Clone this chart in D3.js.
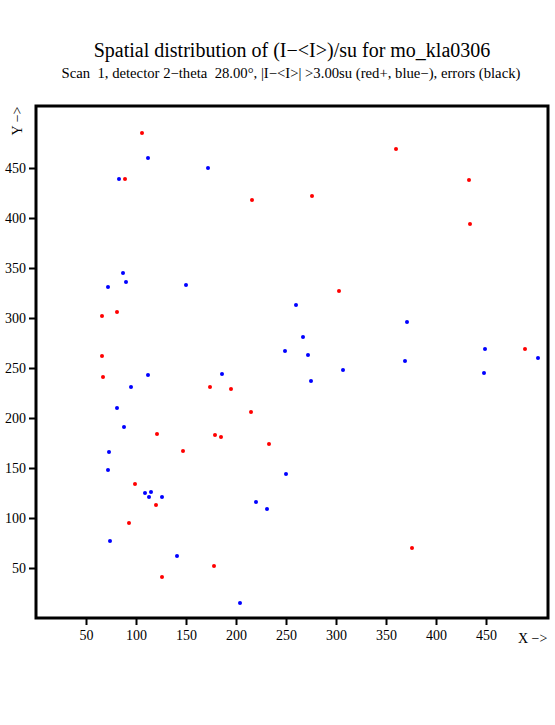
<!DOCTYPE html>
<html>
<head>
<meta charset="utf-8">
<script src="https://cdn.jsdelivr.net/npm/d3@7"></script>
<style>
  html, body { margin: 0; padding: 0; background: #fff; }
  svg { display: block; }
</style>
</head>
<body>
<svg id="chart" width="555" height="725"></svg>
<script>
// Spatial distribution of (I-<I>)/su on the detector face, 512 x 512 pixels.
const W = 555, H = 725;
const FRAME = { left: 36, right: 548, top: 106, bottom: 618 };
const SERIF = "'Liberation Serif','Times New Roman',serif";

const detSize = [0, 512];
const tickValues = [50, 100, 150, 200, 250, 300, 350, 400, 450];

// positive deviations (red)
const posX = [106, 89, 66, 81, 66, 67, 121, 147, 99, 120, 93, 126, 178, 376,
  216, 276, 303, 360, 433, 434, 174, 195, 215, 179, 185, 233, 489];
const posY = [485, 439, 302, 306, 262, 241, 184, 167, 134, 113, 95, 41, 52, 70,
  418, 422, 327, 469, 438, 394, 231, 229, 206, 183, 181, 174, 269];

// negative deviations (blue)
const negX = [112, 83, 87, 90, 72, 150, 112, 95, 81, 88, 73, 72, 109, 115, 113, 126,
  74, 141, 250, 220, 231, 204, 172, 260, 267, 249, 272, 307, 275, 186,
  371, 449, 502, 369, 448];
const negY = [460, 439, 345, 336, 331, 333, 243, 231, 210, 191, 166, 148, 125, 126, 121, 121,
  77, 62, 144, 116, 109, 15, 450, 313, 281, 267, 263, 248, 237, 244,
  296, 269, 260, 257, 245];

const svg = d3.select("#chart");

const x = d3.scaleLinear().domain(detSize).range([FRAME.left, FRAME.right]);
const y = d3.scaleLinear().domain(detSize).range([FRAME.bottom, FRAME.top]);

// titles
svg.append("text").attr("x", 292).attr("y", 57).attr("text-anchor", "middle")
  .style("font", `20px ${SERIF}`).text("Spatial distribution of (I\u2212<I>)/su for mo_kla0306");
svg.append("text").attr("x", 291).attr("y", 78).attr("text-anchor", "middle")
  .style("font", `14.7px ${SERIF}`).style("white-space", "pre")
  .text("Scan  1, detector 2\u2212theta  28.00\u00b0, |I\u2212<I>| >3.00su (red+, blue\u2212), errors (black)");

// axes (ticks outside the frame)
const styleAxis = (s) => {
  s.select(".domain").remove();
  s.selectAll(".tick line").attr("stroke", "#000").attr("stroke-width", 2);
  s.selectAll("text").style("font", `14px ${SERIF}`).style("fill", "#000");
};
svg.append("g").attr("transform", `translate(0,${FRAME.bottom})`)
  .call(d3.axisBottom(x).tickValues(tickValues).tickSize(7).tickPadding(5).tickFormat(d3.format("d")))
  .call(styleAxis);
svg.append("g").attr("transform", `translate(${FRAME.left},0)`)
  .call(d3.axisLeft(y).tickValues(tickValues).tickSize(7).tickPadding(3).tickFormat(d3.format("d")))
  .call(styleAxis);

// frame
svg.append("rect")
  .attr("x", FRAME.left).attr("y", FRAME.top)
  .attr("width", FRAME.right - FRAME.left).attr("height", FRAME.bottom - FRAME.top)
  .attr("fill", "none").attr("stroke", "#000").attr("stroke-width", 3);

svg.append("text").attr("x", 518).attr("y", 643)
  .style("font", `14px ${SERIF}`).text("X \u2212>");
svg.append("text").attr("transform", "translate(22,121) rotate(-90)").attr("text-anchor", "middle")
  .style("font", `14px ${SERIF}`).text("Y \u2212>");

// points
const drawDots = (xs, ys, color) => {
  svg.append("g").selectAll("circle").data(d3.zip(xs, ys)).enter().append("circle")
    .attr("cx", (d) => x(d[0])).attr("cy", (d) => y(d[1]))
    .attr("r", 2).attr("fill", color);
};
drawDots(posX, posY, "#ff0000");
drawDots(negX, negY, "#0000ff");
</script>
</body>
</html>
